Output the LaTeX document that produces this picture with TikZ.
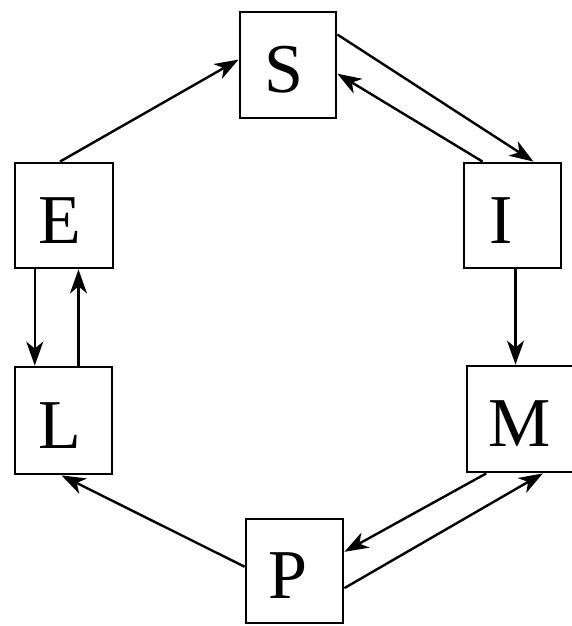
\documentclass[tikz,border=0pt]{standalone}
\usepackage{fontspec}
\setmainfont{Liberation Serif}
\usetikzlibrary{calc,arrows.meta}
\begin{document}
\begin{tikzpicture}[x=1pt,y=-1pt,
  box/.style={draw, line width=2.8pt, minimum width=98pt, minimum height=105pt, inner sep=0pt,
    font=\fontsize{70}{70}\selectfont, text height=55pt, text depth=0pt},
  conn/.style={line width=2.4pt, -{Stealth[length=24pt,width=17pt,inset=7pt]}}]
\useasboundingbox (0,0) rectangle (571,626);
\node[box, minimum width=96pt, minimum height=106pt] (S) at (288,65) {S\kern8pt};
\node[box] (E) at (64,215.5) {E\kern8pt};
\node[box, minimum width=97pt] (I) at (512.5,215.5) {I\kern22pt};
\node[box, minimum width=97pt, minimum height=107pt] (L) at (63.5,420.5) {L\kern7pt};
\node[box, minimum width=106pt, minimum height=106pt] (M) at (520,419) {M};
\node[box, minimum width=97pt, minimum height=104pt] (P) at (294.5,571) {P\kern14pt};
% E -> S
\coordinate (e1) at ($(E.north west)!0.46!(E.north east)$);
\coordinate (s1) at ($(S.north west)!0.45!(S.south west)$);
\draw[conn] (e1) -- (s1);
% S -> I
\coordinate (s2) at ($(S.north east)!0.22!(S.south east)$);
\coordinate (i1) at ($(I.north west)!0.71!(I.north east)$);
\draw[conn] (s2) -- (i1);
% I -> S
\coordinate (i2) at ($(I.north west)!0.20!(I.north east)$);
\coordinate (s3) at ($(S.north east)!0.58!(S.south east)$);
\draw[conn] (i2) -- (s3);
% I -> M
\coordinate (i3) at ($(I.south west)!0.53!(I.south east)$);
\draw[conn] (i3) -- (i3 |- M.north);
% M -> P
\coordinate (m1) at ($(M.south west)!0.19!(M.south east)$);
\coordinate (p1) at ($(P.north east)!0.32!(P.south east)$);
\draw[conn] (m1) -- (p1);
% P -> M
\coordinate (p2) at ($(P.north east)!0.66!(P.south east)$);
\coordinate (m2) at ($(M.south west)!0.71!(M.south east)$);
\draw[conn] (p2) -- (m2);
% P -> L
\coordinate (p3) at ($(P.north west)!0.46!(P.south west)$);
\coordinate (l1) at ($(L.south west)!0.48!(L.south east)$);
\draw[conn] (p3) -- (l1);
% E -> L
\coordinate (e2) at ($(E.south west)!0.21!(E.south east)$);
\draw[conn] (e2) -- (e2 |- L.north);
% L -> E
\coordinate (l2) at ($(L.north west)!0.65!(L.north east)$);
\draw[conn] (l2) -- (l2 |- E.south);
\end{tikzpicture}
\end{document}
